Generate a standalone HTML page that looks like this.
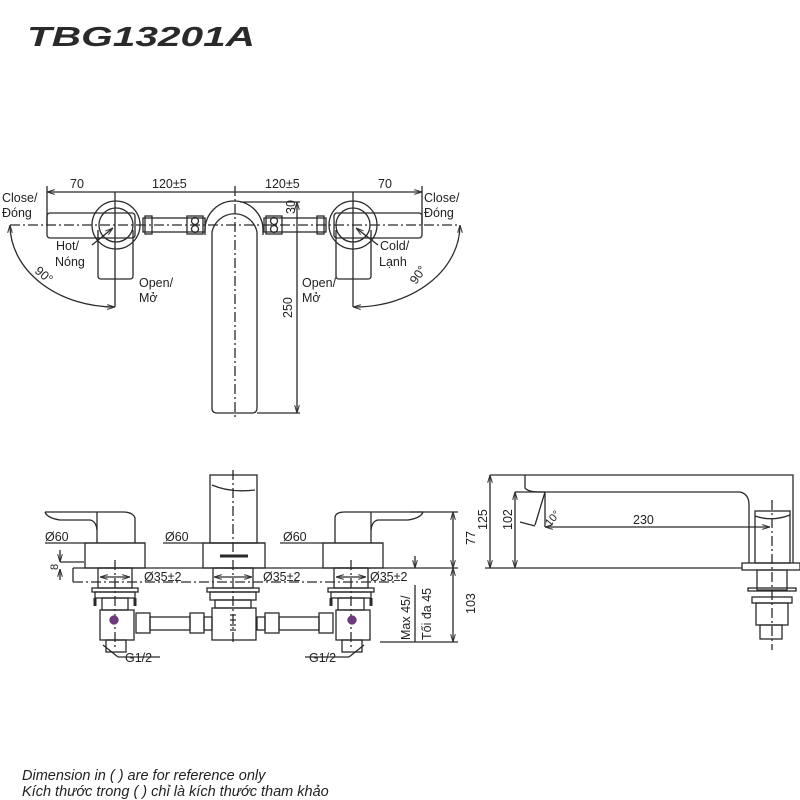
<!DOCTYPE html>
<html><head><meta charset="utf-8"><style>
html,body{margin:0;padding:0;background:#fff;}
svg{display:block;}
text{font-family:"Liberation Sans",sans-serif;fill:#222;}
</style></head><body>
<svg width="800" height="800" viewBox="0 0 800 800" xmlns="http://www.w3.org/2000/svg">
<defs>
<marker id="a" viewBox="0 0 10 10" refX="10" refY="5" markerWidth="6" markerHeight="6" orient="auto-start-reverse"><path d="M0,2 L10,5 L0,8" fill="none" stroke="#333" stroke-width="1.3"/></marker>
</defs>
<text x="27" y="46" font-size="28" font-weight="bold" font-style="italic" textLength="228" lengthAdjust="spacingAndGlyphs" style="fill:#2a2a2a">TBG13201A</text>

<g stroke="#2a2a2a" stroke-width="1.3" fill="none">
<!-- TOP VIEW -->
<line x1="47" y1="192" x2="422" y2="192" marker-start="url(#a)" marker-end="url(#a)"/>
<line x1="115" y1="192" x2="115" y2="307"/><line x1="235" y1="186" x2="235" y2="418" stroke-dasharray="10,3,2,3"/>
<line x1="353" y1="192" x2="353" y2="307"/>
<line x1="47" y1="186" x2="47" y2="225"/><line x1="422" y1="186" x2="422" y2="225"/>
<line x1="10" y1="225" x2="460" y2="225" stroke-dasharray="10,3,2,3"/>
<rect x="47" y="213" width="88" height="25" rx="3"/>
<circle cx="116" cy="225" r="24"/><circle cx="116" cy="225" r="17"/>
<path d="M98,230 V276 Q98,279 101,279 H130 Q133,279 133,276 V230"/>
<path d="M10,225 A105,82 0 0 0 115,307" marker-start="url(#a)" marker-end="url(#a)"/>
<line x1="92" y1="245" x2="113" y2="228" marker-end="url(#a)"/>
<rect x="334" y="213" width="88" height="25" rx="3"/>
<circle cx="353" cy="225" r="24"/><circle cx="353" cy="225" r="17"/>
<path d="M336,230 V276 Q336,279 339,279 H368 Q371,279 371,276 V230"/>
<path d="M460,225 A105,82 0 0 1 353,307" marker-start="url(#a)" marker-end="url(#a)"/>
<line x1="378" y1="245" x2="356" y2="228" marker-end="url(#a)"/>
<rect x="143" y="218" width="62" height="14"/>
<rect x="145" y="216" width="7" height="18"/><rect x="187" y="216" width="16" height="18"/>
<circle cx="195" cy="221" r="3.5"/><circle cx="195" cy="229" r="3.5"/>
<rect x="264" y="218" width="62" height="14"/>
<rect x="317" y="216" width="7" height="18"/><rect x="266" y="216" width="16" height="18"/>
<circle cx="274" cy="221" r="3.5"/><circle cx="274" cy="229" r="3.5"/>
<path d="M205,235 V230 A29,29 0 0 1 263,230 V235"/>
<path d="M212,232 A23,23 0 0 1 257,232 V408 Q257,413 252,413 H217 Q212,413 212,408 Z"/>
<line x1="240" y1="202" x2="300" y2="202"/>
<line x1="297" y1="202" x2="297" y2="413" marker-start="url(#a)" marker-end="url(#a)"/>
<line x1="257" y1="413" x2="300" y2="413"/>

<!-- FRONT VIEW -->
<line x1="73" y1="568" x2="458" y2="568"/>
<line x1="73" y1="582" x2="395" y2="582" stroke-dasharray="10,3,2,3"/>
<line x1="73" y1="568" x2="73" y2="582"/>
<line x1="60" y1="562" x2="84" y2="562"/>
<line x1="60" y1="550" x2="60" y2="562" marker-end="url(#a)"/><line x1="60" y1="580" x2="60" y2="569" marker-end="url(#a)"/>
<path d="M45,512 H97 V543"/><path d="M45,512 Q47,518 60,520 H90 Q96,521 97,530"/>
<path d="M97,512 H123 Q133,512 135,518 V543"/>
<rect x="85" y="543" width="60" height="25"/>
<line x1="45" y1="543" x2="145" y2="543"/>
<rect x="210" y="475" width="47" height="68"/>
<path d="M212,485 Q230,493 255,490"/>
<rect x="203" y="543" width="62" height="25"/>
<line x1="220" y1="556" x2="248" y2="556" stroke-width="3"/>
<line x1="163" y1="543" x2="265" y2="543"/>
<line x1="233" y1="470" x2="233" y2="645" stroke-dasharray="10,3,2,3"/>
<path d="M423,512 H371 V543"/><path d="M423,512 Q421,518 408,520 H378 Q372,521 371,530"/>
<path d="M371,512 H345 Q335,512 335,518 V543"/>
<rect x="323" y="543" width="60" height="25"/>
<line x1="280" y1="543" x2="383" y2="543"/>
<g id="u">
<rect x="98" y="568" width="34" height="20"/>
<line x1="115" y1="560" x2="115" y2="650" stroke-dasharray="10,3,2,3"/>
<line x1="100" y1="577" x2="130" y2="577" marker-start="url(#a)" marker-end="url(#a)"/>
<rect x="92" y="588" width="46" height="4"/><rect x="95" y="592" width="40" height="6"/>
<line x1="95" y1="598" x2="95" y2="606" stroke-width="3"/><line x1="135" y1="598" x2="135" y2="606" stroke-width="3"/>
<rect x="102" y="598" width="26" height="12"/>
<rect x="100" y="610" width="34" height="30"/>
<rect x="106" y="640" width="20" height="12"/>
</g>
<use href="#u" x="236"/>
<circle cx="114" cy="620" r="4" fill="#6a3a7a" stroke="#6a3a7a"/>
<circle cx="352" cy="620" r="4" fill="#6a3a7a" stroke="#6a3a7a"/>
<rect x="213" y="568" width="40" height="20"/>
<line x1="214" y1="577" x2="252" y2="577" marker-start="url(#a)" marker-end="url(#a)"/>
<rect x="207" y="588" width="52" height="4"/><rect x="210" y="592" width="46" height="8"/>
<rect x="215" y="600" width="36" height="8"/>
<rect x="212" y="608" width="44" height="32"/>
<path d="M230,615 h6 M230,620 h6 M230,625 h6 M230,630 h6"/>
<rect x="136" y="613" width="14" height="20"/><rect x="150" y="617" width="40" height="13"/><rect x="190" y="613" width="14" height="20"/><rect x="204" y="617" width="8" height="13"/>
<rect x="319" y="613" width="14" height="20"/><rect x="279" y="617" width="40" height="13"/><rect x="265" y="613" width="14" height="20"/><rect x="257" y="617" width="8" height="13"/>
<line x1="103" y1="645" x2="118" y2="657"/><line x1="118" y1="657" x2="160" y2="657"/>
<line x1="364" y1="645" x2="349" y2="657"/><line x1="349" y1="657" x2="305" y2="657"/>
<line x1="410" y1="512" x2="458" y2="512"/>
<line x1="453" y1="512" x2="453" y2="568" marker-start="url(#a)" marker-end="url(#a)"/>
<line x1="453" y1="568" x2="453" y2="642" marker-start="url(#a)" marker-end="url(#a)"/>
<line x1="380" y1="642" x2="458" y2="642"/>
<line x1="415" y1="556" x2="415" y2="568" marker-end="url(#a)"/>
<line x1="415" y1="585" x2="415" y2="642"/>

<!-- SIDE VIEW -->
<path d="M490,475 H793 V563"/>
<path d="M525,475 V488 Q528,492 540,492 H740 Q749,494 749,505 V563"/>
<line x1="485" y1="568" x2="742" y2="568"/>
<rect x="742" y="563" width="58" height="7"/>
<rect x="755" y="511" width="35" height="52"/>
<path d="M755,516 Q772,522 790,515"/>
<line x1="772" y1="500" x2="772" y2="650" stroke-dasharray="10,3,2,3"/>
<rect x="757" y="570" width="30" height="20"/>
<rect x="748" y="588" width="48" height="3"/>
<rect x="752" y="597" width="40" height="6"/>
<rect x="756" y="603" width="32" height="22"/>
<rect x="760" y="625" width="22" height="14"/>
<line x1="490" y1="475" x2="490" y2="568" marker-start="url(#a)" marker-end="url(#a)"/>
<line x1="515" y1="492" x2="515" y2="568" marker-start="url(#a)" marker-end="url(#a)"/>
<line x1="515" y1="492" x2="545" y2="492"/>
<path d="M545,492 L535,525 M520,522 L535,526"/>
<line x1="545" y1="492" x2="545" y2="527"/>
<line x1="545" y1="527" x2="770" y2="527" marker-start="url(#a)" marker-end="url(#a)"/>
</g>

<g font-size="12.5">
<text x="70" y="188">70</text><text x="152" y="188">120±5</text><text x="265" y="188">120±5</text><text x="378" y="188">70</text>
<text x="2" y="202">Close/</text><text x="2" y="217">Đóng</text>
<text x="56" y="250">Hot/</text><text x="55" y="266">Nóng</text>
<text x="139" y="287">Open/</text><text x="139" y="302">Mở</text>
<text x="424" y="202">Close/</text><text x="424" y="217">Đóng</text>
<text x="380" y="250">Cold/</text><text x="379" y="266">Lạnh</text>
<text x="302" y="287">Open/</text><text x="302" y="302">Mở</text>
<text transform="translate(34,272) rotate(40)">90°</text>
<text transform="translate(416,285) rotate(-55)">90°</text>
<text transform="translate(295,214) rotate(-90)">30</text>
<text transform="translate(292,318) rotate(-90)">250</text>
<text x="45" y="541">Ø60</text><text x="165" y="541">Ø60</text><text x="283" y="541">Ø60</text>
<text x="144" y="581">Ø35±2</text><text x="263" y="581">Ø35±2</text><text x="370" y="581">Ø35±2</text>
<text transform="translate(58,570) rotate(-90)" font-size="11">8</text>
<text transform="translate(475,545) rotate(-90)">77</text>
<text transform="translate(475,614) rotate(-90)">103</text>
<text transform="translate(410,640) rotate(-90)">Max 45/</text>
<text transform="translate(431,640) rotate(-90)">Tối đa 45</text>
<text x="125" y="662">G1/2</text><text x="309" y="662">G1/2</text>
<text transform="translate(487,530) rotate(-90)">125</text>
<text transform="translate(512,530) rotate(-90)">102</text>
<text transform="translate(550,527) rotate(-50)" font-size="11">10°</text>
<text x="633" y="524">230</text>
</g>
<text x="22" y="780" font-size="14.5" font-style="italic">Dimension in ( ) are for reference only</text>
<text x="22" y="796" font-size="14.5" font-style="italic">Kích thước trong ( ) chỉ là kích thước tham khảo</text>
</svg>
</body></html>
